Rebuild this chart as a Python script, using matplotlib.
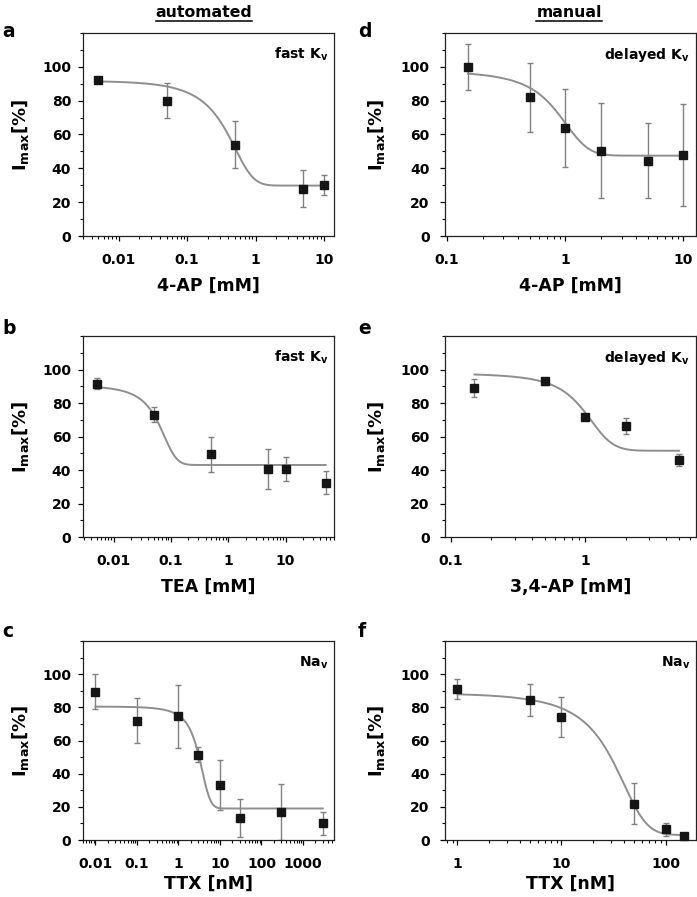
import numpy as np
import matplotlib
matplotlib.use('Agg')
import matplotlib.pyplot as plt
from matplotlib.lines import Line2D
from matplotlib.ticker import FixedLocator, FuncFormatter, NullFormatter, MultipleLocator

plt.rcParams['font.family'] = 'DejaVu Sans'
plt.rcParams['font.weight'] = 'bold'
plt.rcParams['mathtext.fontset'] = 'dejavusans'

W, H = 697, 897  # figure size in pixels

# --- data -----------------------------------------------------------------
# fit curves are Boltzmann sigmoids: A1, A2, x0, dx

# a: automated, 4-AP, fast Kv
a_x = [0.005, 0.05, 0.5, 5, 10]
a_y = [92, 80, 54, 28, 30]
a_err = [1.0, 10.5, 14, 11, 6]
a_fit = [110, 29.8, 0.28, 0.23]

# b: automated, TEA, fast Kv
b_x = [0.005, 0.05, 0.5, 5, 10, 50]
b_y = [91.5, 73, 49.5, 40.5, 40.5, 32.5]
b_err = [3.3, 4.5, 10.5, 11.8, 7.3, 7]
b_fit = [96, 43, 0.057, 0.0265]

# c: automated, TTX, Nav
c_x = [0.01, 0.1, 1, 3, 10, 30, 300, 3000]
c_y = [89.5, 72, 74.5, 51.5, 33, 13.5, 17, 10]
c_err = [10.5, 13.7, 19, 4.5, 15, 11.5, 17, 7]
c_fit = [85, 19, 3.0, 1.15]

# d: manual, 4-AP, delayed Kv
d_x = [0.15, 0.5, 1, 2, 5, 10]
d_y = [100, 82, 64, 50.5, 44.5, 48]
d_err = [13.5, 20.5, 23, 28, 22.3, 30]
d_fit = [101, 47.5, 0.83, 0.30]

# e: manual, 3,4-AP, delayed Kv
e_x = [0.15, 0.5, 1, 2, 5]
e_y = [89, 93, 71.5, 66.5, 46]
e_err = [5.5, 2, 1.5, 4.8, 3.5]
e_fit = [99, 51.5, 0.98, 0.265]

# f: manual, TTX, Nav
f_x = [1, 5, 10, 50, 100, 150]
f_y = [91, 84.5, 74, 22, 6.5, 2.5]
f_err = [5.8, 9.5, 12, 12.3, 4, 1.5]
f_fit = [100, 3, 28.8, 14.3]

letters = ['a', 'b', 'c', 'd', 'e', 'f']
xlabels = ['4-AP [mM]', 'TEA [mM]', 'TTX [nM]', '4-AP [mM]', '3,4-AP [mM]', 'TTX [nM]']
tags = ['fast K$_\\mathregular{v}$', 'fast K$_\\mathregular{v}$', 'Na$_\\mathregular{v}$',
        'delayed K$_\\mathregular{v}$', 'delayed K$_\\mathregular{v}$', 'Na$_\\mathregular{v}$']
xlims = [(0.003, 14), (0.0029, 70), (0.005, 5600), (0.096, 12.8), (0.0905, 6.7), (0.76, 196)]
col_titles = ['automated', 'manual']


def boltzmann(x, A1, A2, x0, dx):
    return A2 + (A1 - A2) / (1 + np.exp((x - x0) / dx))


panels = [(a_x, a_y, a_err, a_fit), (b_x, b_y, b_err, b_fit), (c_x, c_y, c_err, c_fit),
          (d_x, d_y, d_err, d_fit), (e_x, e_y, e_err, e_fit), (f_x, f_y, f_err, f_fit)]

# layout (pixels)
row_top = [33, 336, 641]
row_h = [203, 201, 199]
col_left = [83, 445]
ax_w = 251
xlab_gap = [40.5, 40.5, 34.5]
ylab_edge = [31, 387]
ytick_pad = [4.7, 7.2]
letter_x = [2, 358]
letter_base = [37, 334, 637]

fig = plt.figure(figsize=(W / 100, H / 100), dpi=100)

for i, (x, y, err, fit) in enumerate(panels):
    col, row = divmod(i, 3)
    l, t, h = col_left[col], row_top[row], row_h[row]
    ax = fig.add_axes([l / W, 1 - (t + h) / H, ax_w / W, h / H])

    ax.errorbar(x, y, yerr=err, fmt='none', ecolor='#808080', elinewidth=1.0,
                capsize=2.5, capthick=1.0, zorder=2)
    xs = np.logspace(np.log10(x[0]), np.log10(x[-1]), 400)
    ax.plot(xs, boltzmann(xs, *fit), color='#8e8e8e', lw=1.4, zorder=3)
    ax.plot(x, y, 's', color='#151515', ms=5.2, zorder=4, clip_on=False)

    lo, hi = xlims[i]
    ax.set_xscale('log')
    ax.set_xlim(lo, hi)
    ax.set_ylim(0, 120)
    ax.yaxis.set_major_locator(FixedLocator([0, 20, 40, 60, 80, 100]))
    ax.yaxis.set_minor_locator(MultipleLocator(10))
    dec = np.arange(np.floor(np.log10(lo)), np.ceil(np.log10(hi)) + 1)
    majors = [10 ** d for d in dec if lo <= 10 ** d <= hi]
    minors = [m * 10 ** d for d in dec for m in range(2, 10) if lo <= m * 10 ** d <= hi]
    ax.xaxis.set_major_locator(FixedLocator(majors))
    ax.xaxis.set_minor_locator(FixedLocator(minors))
    ax.xaxis.set_major_formatter(FuncFormatter(lambda v, p: '%g' % v))
    ax.xaxis.set_minor_formatter(NullFormatter())

    ax.tick_params(which='major', direction='out', length=3.8, width=0.9, labelsize=10)
    ax.tick_params(which='minor', direction='out', length=2.2, width=0.8)
    ax.tick_params(axis='x', which='major', pad=8.5)
    ax.tick_params(axis='y', which='major', pad=ytick_pad[col])
    for s in ax.spines.values():
        s.set_linewidth(0.9)
        s.set_color('#222222')

    ax.set_xlabel(xlabels[i], fontsize=12.5, fontweight='bold', va='top')
    ax.xaxis.set_label_coords(0.5, -xlab_gap[row] / h)
    ax.set_ylabel('I$_\\mathregular{max}$[%]', fontsize=13, fontweight='bold')
    ax.yaxis.set_label_coords(-(l - ylab_edge[col]) / ax_w, 0.5)

    ax.annotate(tags[i], xy=(1, 1), xycoords='axes fraction', xytext=(-6, -26),
                textcoords='offset pixels', ha='right', va='baseline',
                fontsize=10, fontweight='bold')

    fig.text(letter_x[col] / W, 1 - letter_base[row] / H, letters[i],
             fontsize=13.5, fontweight='bold', ha='left', va='baseline')

# column titles, underlined
fig.canvas.draw()
renderer = fig.canvas.get_renderer()
for cx, title in zip([204, 569], col_titles):
    txt = fig.text(cx / W, 1 - 17 / H, title, fontsize=11.3, fontweight='bold',
                   ha='center', va='baseline')
    bb = txt.get_window_extent(renderer)
    fig.add_artist(Line2D([bb.x0 / W, bb.x1 / W], [1 - 21 / H, 1 - 21 / H],
                          transform=fig.transFigure, color='black', lw=1.1))

fig.savefig('out.png', dpi=100)
